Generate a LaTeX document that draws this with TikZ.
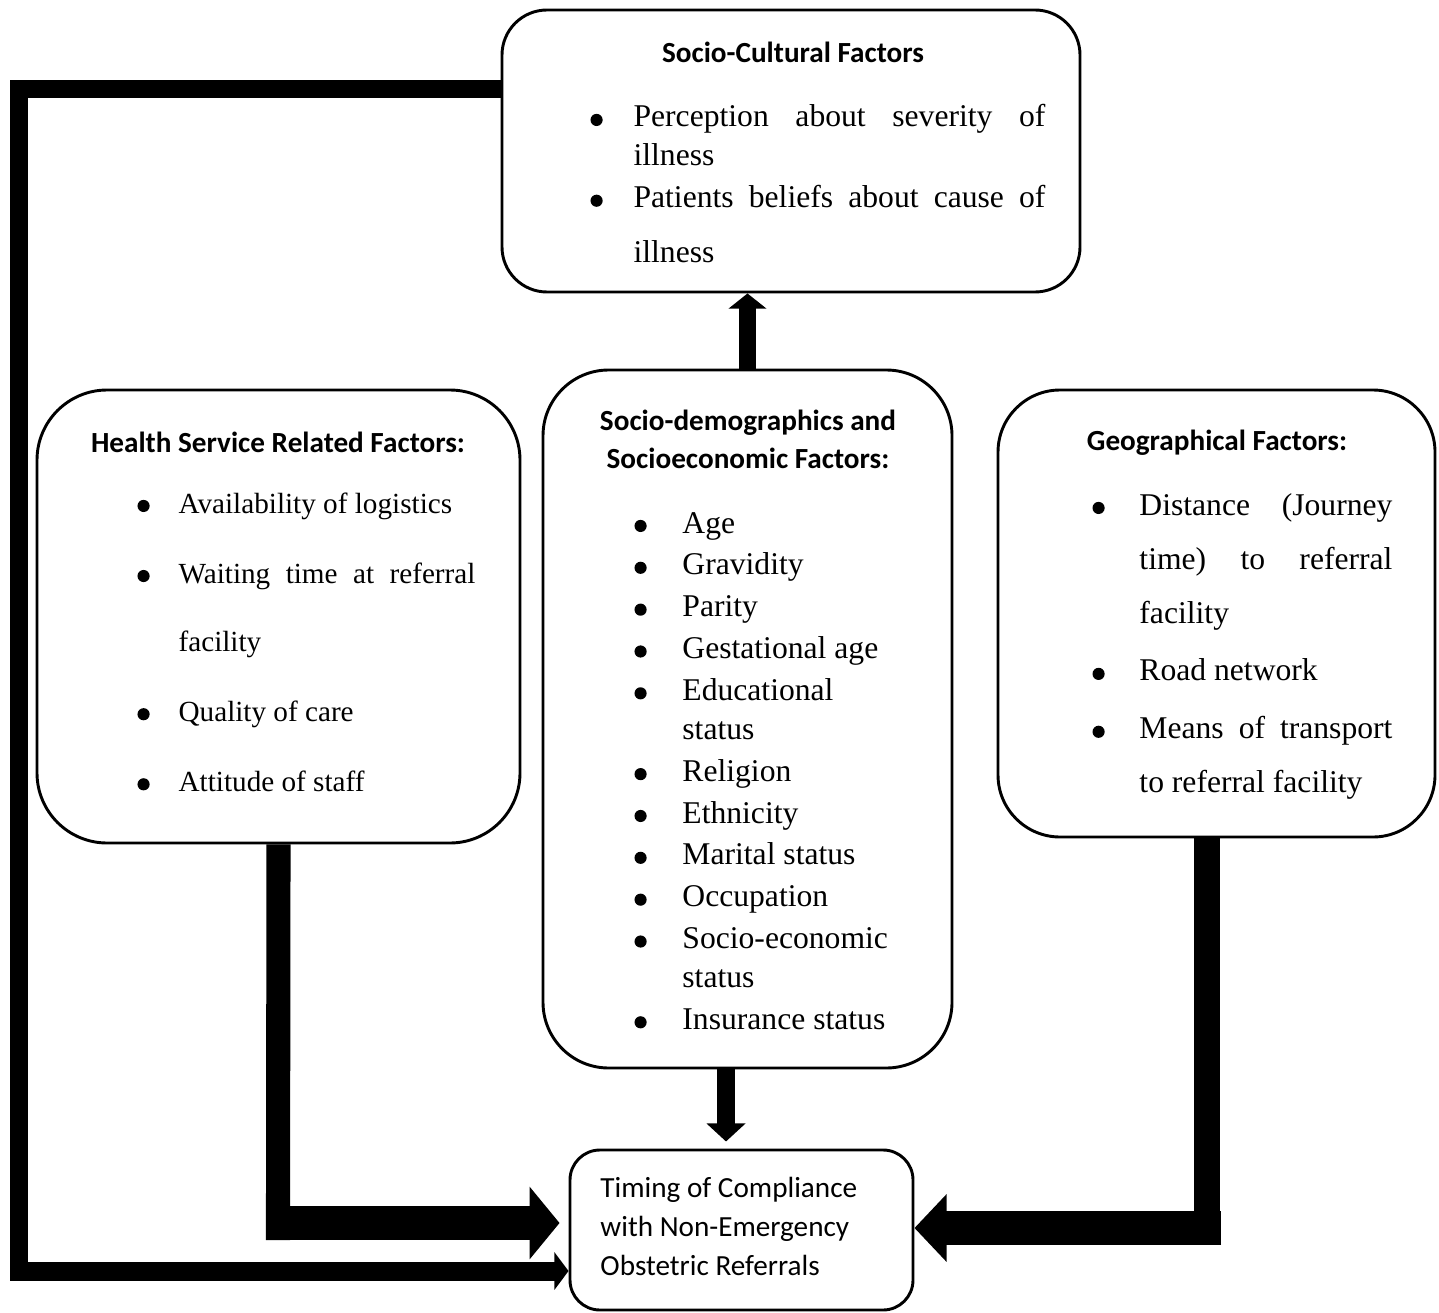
\documentclass[tikz,border=0pt]{standalone}
\usepackage{fontspec}
\setmainfont{Liberation Serif}
\newfontfamily\calibri{Carlito}
\usetikzlibrary{arrows.meta,fit}
\newlength{\bulind}
\newcommand{\bitem}[1]{\noindent\hangindent=\bulind\hangafter=1
  \makebox[\bulind][l]{\tikz[baseline=0pt]\fill (2.5pt,2.9pt) circle (2.5pt);}#1\par}

\begin{document}
\begin{tikzpicture}[x=0.411pt,y=-0.411pt,
  box/.style={draw,line width=1.2pt,inner sep=0pt,rounded corners=#1},
  head/.style={font=\calibri\bfseries\fontsize{12}{15.6}\selectfont,inner sep=0pt,anchor=base},
  items/.style n args={5}{anchor=base west,inner sep=0pt,align=justify,text width=#1,
    font=\fontsize{#2}{#3}\selectfont,
    execute at begin node={\tolerance=10000\relax\hbadness=10000\relax\hyphenpenalty=10000\relax
      \global\bulind=#4\relax\parskip=#5\relax}},
  pipe/.style={line width=#1,line join=miter}]
\useasboundingbox (0,0) rectangle (1439,1312);

\node[box=18.5pt,fit={(502,10) (1080,292)}] (scf) {};
\node[box=28.8pt,fit={(37,390) (520,843)}] (hsf) {};
\node[box=27pt,fit={(543,370) (952,1068)}] (sdf) {};
\node[box=25.5pt,fit={(998,390) (1435,837)}] (gf) {};
\node[box=12.3pt,fit={(570,1150) (913,1310)}] (timing) {};

\node[head] (scfhead) at (793,63) {Socio-Cultural Factors};
\node[items={187pt}{13}{16pt}{17.7pt}{1.2pt}] (scflist) at (590,127)
  {\bitem{Perception about severity of\linebreak illness}
   \bitem{Patients beliefs about cause of\vadjust{\vskip 6.6pt} illness}};

\node[head] (hsfhead) at (278,452) {Health Service Related Factors:};
\node[items={138.9pt}{12}{28pt}{16.9pt}{0.8pt}] (hsflist) at (137,513)
  {\bitem{Availability of logistics}
   \bitem{Waiting time at referral facility}
   \bitem{Quality of care}
   \bitem{Attitude of staff}};

\node[head,align=center] (sdfhead) at (748,468)
  {Socio-demographics and\\Socioeconomic Factors:};
\node[items={106.9pt}{13}{16pt}{19.7pt}{1.2pt}] (sdflist) at (634,533)
  {\bitem{Age}
   \bitem{Gravidity}
   \bitem{Parity}
   \bitem{Gestational age}
   \bitem{Educational status}
   \bitem{Religion}
   \bitem{Ethnicity}
   \bitem{Marital status}
   \bitem{Occupation}
   \bitem{Socio-economic status}
   \bitem{Insurance status}};

\node[head] (gfhead) at (1217,450) {Geographical Factors:};
\node[items={123.3pt}{13}{22.2pt}{19.3pt}{1.6pt}] (gflist) at (1092,515)
  {\bitem{Distance (Journey time) to referral facility}
   \bitem{Road network}
   \bitem{Means of transport to referral facility}};

\node[font=\calibri\fontsize{12}{16}\selectfont,align=left,
  inner sep=0pt,anchor=base west] (timingtext) at (600,1275)
  {Timing of Compliance\\with Non-Emergency\\Obstetric Referrals};

\coordinate (fbtop) at (19,89);
\coordinate (fbbot) at (19,1271);
\draw[pipe=7.8pt,-{Triangle[length=5.8pt,width=15.2pt]}] (fbtop -| scf.west) -- (fbtop) -- (fbbot) -- (fbbot -| timing.west);

\coordinate (hsbend) at (278,1223);
\draw[pipe=9.9pt,shorten >=-7pt] (hsf.south) -- (hsbend);
\draw[pipe=13.6pt,shorten <=-4.9pt,shorten >=3.7pt,-{Triangle[length=12.3pt,width=29.2pt]}] (hsbend) -- (hsbend -| timing.west);

\coordinate (gbend) at (1207,1228);
\draw[pipe=10.3pt,shorten >=-7pt] (gf.south -| gbend) -- (gbend);
\draw[pipe=13.6pt,shorten <=-5.8pt,-{Triangle[length=13.2pt,width=27.1pt]}] (gbend) -- (gbend -| timing.east);

\coordinate (dnx) at (726,0);
\draw[pipe=7.4pt,shorten >=2.9pt,-{Triangle[length=7.4pt,width=15.6pt]}] (sdf.south -| dnx) -- (timing.north -| dnx);
\draw[pipe=6.6pt,-{Triangle[length=6.2pt,width=15.2pt]}] (sdf.north) -- (sdf.north |- scf.south);
\end{tikzpicture}
\end{document}
